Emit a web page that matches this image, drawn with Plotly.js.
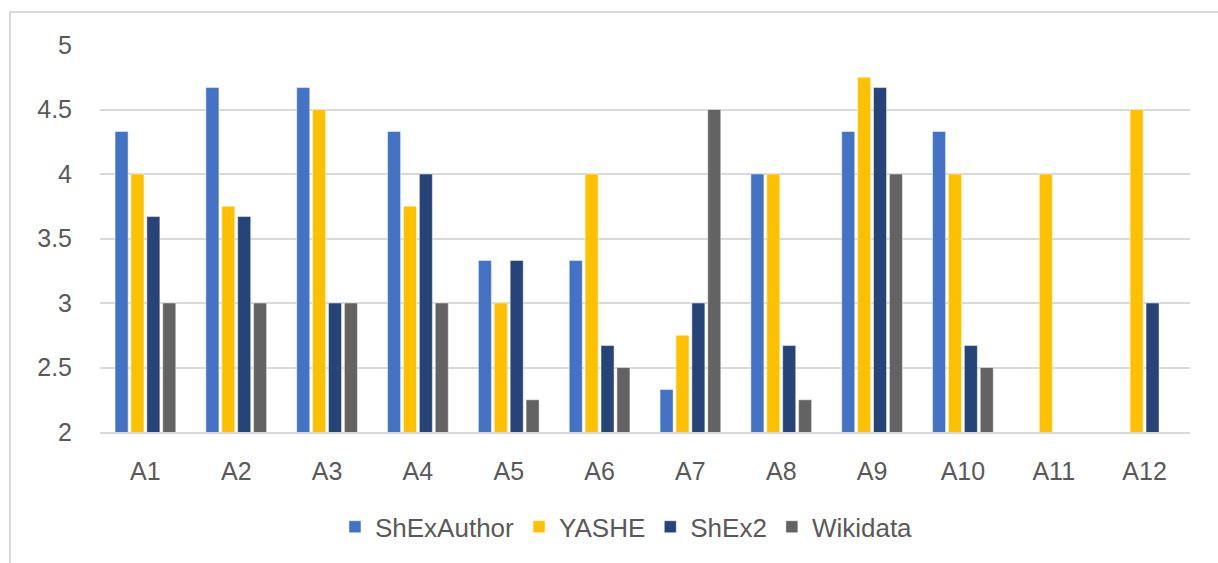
<!DOCTYPE html>
<html>
<head>
<meta charset="utf-8">
<script src="https://cdn.plot.ly/plotly-3.0.1.min.js"></script>
<style>
  html, body { margin: 0; padding: 0; background: #ffffff; }
  #frame { position: absolute; left: 9px; top: 11px; width: 1230px; height: 600px;
           border-top: 2px solid #d9d9d9; border-left: 2px solid #d9d9d9; }
  #chart { position: absolute; left: 0; top: 0; width: 1218px; height: 563px; }
</style>
</head>
<body>
<div id="frame"></div>
<div id="chart"></div>
<script>
const categories = ["A1","A2","A3","A4","A5","A6","A7","A8","A9","A10","A11","A12"];
const shexAuthor = [4.33, 4.67, 4.67, 4.33, 3.33, 3.33, 2.33, 4.0, 4.33, 4.33, null, null];
const yashe      = [4.0, 3.75, 4.5, 3.75, 3.0, 4.0, 2.75, 4.0, 4.75, 4.0, 4.0, 4.5];
const shex2      = [3.67, 3.67, 3.0, 4.0, 3.33, 2.67, 3.0, 2.67, 4.67, 2.67, null, 3.0];
const wikidata   = [3.0, 3.0, 3.0, 3.0, 2.25, 2.5, 4.5, 2.25, 4.0, 2.5, null, null];
const seriesNames = ["ShExAuthor", "YASHE", "ShEx2", "Wikidata"];
const seriesColors = ["#4472C4", "#FFC000", "#264478", "#636363"];
const seriesValues = [shexAuthor, yashe, shex2, wikidata];
const yTicks = [2, 2.5, 3, 3.5, 4, 4.5, 5];

const traces = seriesValues.map((vals, i) => ({
  type: "bar",
  name: seriesNames[i],
  x: categories,
  y: vals,
  marker: { color: seriesColors[i], line: { color: "rgba(255,255,255,0.6)", width: 0.8 } },
  cliponaxis: true
}));

const font = "'Liberation Sans', Arial, sans-serif";
const layout = {
  width: 1218, height: 563,
  paper_bgcolor: "rgba(0,0,0,0)",
  plot_bgcolor: "rgba(0,0,0,0)",
  margin: { l: 100, r: 28, t: 45, b: 131 },
  barmode: "group",
  bargap: 0.3,
  bargroupgap: 0.18,
  font: { family: font, color: "#595959", size: 22 },
  showlegend: true,
  legend: {
    orientation: "h", x: 0.483, xanchor: "center", y: -0.245, yanchor: "middle",
    font: { family: font, size: 26, color: "#595959" },
    itemwidth: 30, traceorder: "normal"
  },
  xaxis: {
    type: "category",
    showgrid: false,
    showline: true, linecolor: "#d9d9d9", linewidth: 2,
    ticks: "", ticklabelstandoff: 16,
    tickfont: { family: font, size: 25, color: "#595959" },
    zeroline: false
  },
  yaxis: {
    range: [2, 5],
    tickmode: "array",
    tickvals: yTicks,
    ticktext: yTicks.map(String),
    showgrid: true, gridcolor: "#d9d9d9", gridwidth: 2,
    zeroline: false, showline: false, ticks: "",
    ticklabelstandoff: 27,
    tickfont: { family: font, size: 25, color: "#595959" }
  }
};

Plotly.newPlot("chart", traces, layout, { displayModeBar: false, staticPlot: true });
</script>
</body>
</html>
